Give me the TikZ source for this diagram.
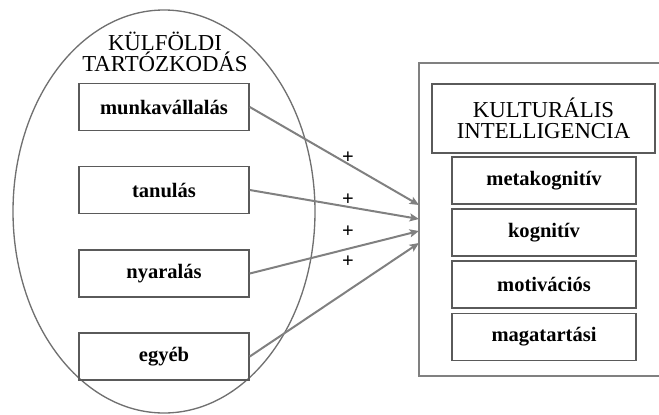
\documentclass[tikz,border=0pt]{standalone}
\usepackage{fontspec}
\setmainfont{Liberation Serif}
\usetikzlibrary{arrows.meta,shapes.geometric}
\definecolor{boxgray}{HTML}{5A5A5A}
\definecolor{linegray}{HTML}{808080}
\definecolor{ellgray}{HTML}{707070}
\begin{document}
\begin{tikzpicture}[x=0.75pt,y=-0.75pt,
  lbox/.style={draw=boxgray,line width=1.1pt,minimum width=127.5pt,minimum height=35.25pt,inner sep=0pt,font=\fontsize{15.4}{17}\selectfont\bfseries},
  rbox/.style={draw=boxgray,line width=1.1pt,minimum width=138pt,minimum height=35.25pt,inner sep=0pt,font=\fontsize{15.4}{17}\selectfont\bfseries},
  title/.style={align=center,inner sep=0pt,font=\fontsize{17.1}{15.4}\selectfont},
  conn/.style={draw=linegray,line width=1.5pt,-{Stealth[length=7pt,width=6pt,inset=1.5pt]}},
  plus/.style={inner sep=0pt,font=\fontsize{15.4}{17}\selectfont\bfseries}]
\clip (0,0) rectangle (659,414);
\useasboundingbox (0,0) rectangle (659,414);
% left group
\node[ellipse,draw=ellgray,line width=1pt,minimum width=226.5pt,minimum height=302.25pt,inner sep=0pt] (grp) at (164,211.5) {};
\node[title] (gtitle) at (165,52) {KÜLFÖLDI\\TARTÓZKODÁS};
\node[lbox] (mv) at (164,107) {munkavállalás};
\node[lbox] (tan) at (164,190) {tanulás};
\node[lbox] (nyar) at (164,273.5) {nyaralás};
\node[lbox] (egy) at (164,356.5) {egyéb};
% right group
\node[draw=linegray,line width=1.5pt,minimum width=195.75pt,minimum height=234.75pt,inner sep=0pt] (outer) at (549.5,219.5) {};
\node[draw=boxgray,line width=1.1pt,minimum width=167.25pt,minimum height=51.75pt,inner sep=0pt,align=center,font=\fontsize{17.1}{15.4}\selectfont] (ki) at (543.5,118.5) {KULTURÁLIS\\INTELLIGENCIA};
\node[rbox] (meta) at (544,180.5) {metakognitív};
\node[rbox] (kog) at (544,232.5) {kognitív};
\node[rbox] (mot) at (544,284.5) {motivációs};
\node[rbox] (mag) at (544,337) {magatartási};
% arrow ends
\coordinate (t1) at (419,205);
\coordinate (t2) at (419,219);
\coordinate (t3) at (419,231);
\coordinate (t4) at (419,243);
\draw[conn] (mv.east) -- (t1);
\draw[conn] (tan.east) -- (t2);
\draw[conn] (nyar.east) -- (t3);
\draw[conn] (egy.east) -- (t4);
% signs
\node[plus] (p1) at (348,158) {+};
\node[plus] (p2) at (348,200) {+};
\node[plus] (p3) at (348,232) {+};
\node[plus] (p4) at (348,262) {+};
\end{tikzpicture}
\end{document}
